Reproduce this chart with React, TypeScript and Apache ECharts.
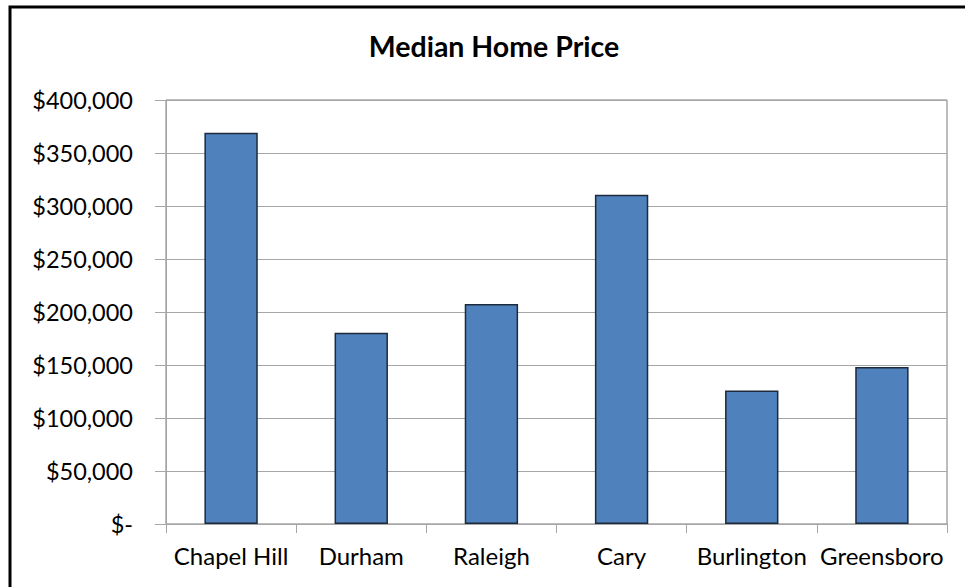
import React, { useEffect, useRef } from "react";
import * as echarts from "echarts";

const title = "Median Home Price";
const cities = ["Chapel Hill", "Durham", "Raleigh", "Cary", "Burlington", "Greensboro"];
const prices = [369000, 180500, 207500, 310500, 126000, 148000];
const yTicks = { min: 0, max: 400000, step: 50000 };

const fmt = (v: number) => (v === 0 ? "$-" : "$" + v.toLocaleString("en-US"));

export default function App() {
  const ref = useRef<HTMLDivElement>(null);
  useEffect(() => {
    if (!ref.current) return;
    const chart = echarts.init(ref.current, undefined, { renderer: "svg" });
    const font = "Lato, 'Noto Sans', sans-serif";
    chart.setOption({
      animation: false,
      backgroundColor: "#ffffff",
      title: {
        text: title,
        left: 489,
        textAlign: "center",
        top: 26,
        textStyle: { fontFamily: font, fontSize: 28.5, fontWeight: "bold", color: "#000000" },
      },
      graphic: [
        {
          type: "rect",
          shape: { x: 10, y: 7, width: 1100, height: 1100 },
          style: { fill: "none", stroke: "#000000", lineWidth: 3 },
          z: 100,
        },
      ],
      grid: {
        left: 166,
        right: 18,
        top: 100,
        bottom: 63,
        show: true,
        borderColor: "#7a7a7a",
        borderWidth: 1,
      },
      xAxis: {
        type: "category",
        data: cities,
        axisLine: { show: true, lineStyle: { color: "#a6a6a6", width: 1 } },
        axisTick: { show: true, length: 9, lineStyle: { color: "#a6a6a6" } },
        axisLabel: { fontFamily: font, fontSize: 24, color: "#000000", margin: 19, interval: 0 },
        splitLine: { show: false },
      },
      yAxis: {
        type: "value",
        min: yTicks.min,
        max: yTicks.max,
        interval: yTicks.step,
        axisLine: { show: true, lineStyle: { color: "#a6a6a6", width: 1 } },
        axisTick: { show: true, length: 11, lineStyle: { color: "#a6a6a6" } },
        axisLabel: { fontFamily: font, fontSize: 23.5, color: "#000000", margin: 33, formatter: fmt },
        splitLine: { show: true, lineStyle: { color: "#a6a6a6", width: 1 } },
      },
      series: [
        {
          type: "bar",
          data: prices,
          barWidth: "41%",
          itemStyle: { color: "#4f81bd", borderColor: "#1c2a3c", borderWidth: 1.5 },
        },
      ],
    });
    return () => chart.dispose();
  }, []);
  return (
    <div
      ref={ref}
      style={{ position: "absolute", left: 0, top: 0, width: 965, height: 587 }}
    />
  );
}
